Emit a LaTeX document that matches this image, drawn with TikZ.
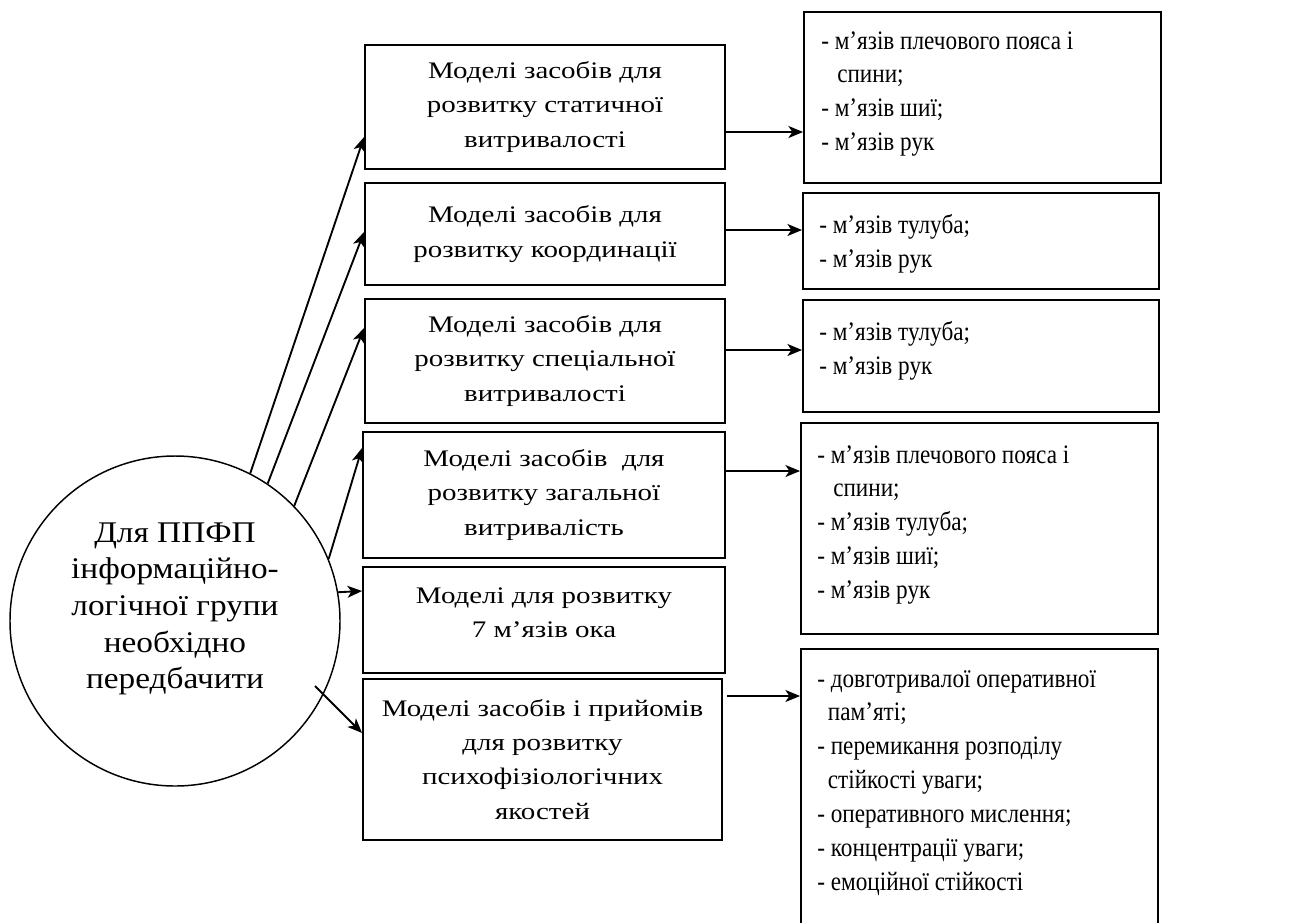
\documentclass[tikz,border=0pt]{standalone}
\usepackage{fontspec}
\setmainfont{Liberation Serif}
\newfontfamily\midfont[FakeStretch=1.22]{Liberation Serif}
\newfontfamily\hubfont[FakeStretch=1.11]{Liberation Serif}
\newfontfamily\listfont[FakeStretch=0.87]{Liberation Serif}
\usetikzlibrary{arrows.meta,calc}

\tikzset{
  box/.style={draw, line width=1.4pt, rectangle, inner sep=0pt, align=center,
    font=\midfont\fontsize{17.8pt}{25.6pt}\selectfont},
  listbox/.style={draw, line width=1.4pt, rectangle, inner sep=0pt},
  listtext/.style={anchor=north west, inner sep=0pt, align=left,
    font=\listfont\fontsize{20pt}{25.4pt}\selectfont},
  hub/.style={draw, circle, line width=1.1pt, inner sep=0pt,
    minimum size=330*0.75pt},
  hubtext/.style={inner sep=0pt, align=center,
    font=\hubfont\fontsize{22.5pt}{27.5pt}\selectfont},
  arr/.style={line width=1.4pt, -{Stealth[length=11pt,width=9pt,inset=3pt]}}
}

\begin{document}
\begin{tikzpicture}[x=0.75pt, y=-0.75pt]
\useasboundingbox (0,0) rectangle (1303,922);

% central circle and its caption
\node[hub] (c) at (175,621) {};
\node[hubtext] (ct) at (175,609) {Для ППФП\\інформаційно-\\логічної групи\\необхідно\\передбачити};

% middle column: kinds of models
\node[box, minimum width=360*0.75pt, minimum height=124*0.75pt] (m1) at (545,107)
  {Моделі засобів для\\розвитку статичної\\витривалості};
\node[box, minimum width=360*0.75pt, minimum height=102*0.75pt] (m2) at (545,234)
  {Моделі засобів для\\розвитку координації};
\node[box, minimum width=360*0.75pt, minimum height=124*0.75pt] (m3) at (545,361)
  {Моделі засобів для\\розвитку спеціальної\\витривалості};
\node[box, minimum width=362*0.75pt, minimum height=126*0.75pt] (m4) at (544,495)
  {Моделі засобів \ для\\розвитку загальної\\витривалість};
\node[box, minimum width=362*0.75pt, minimum height=106*0.75pt] (m5) at (544,620)
  {Моделі для розвитку\\7 м’язів ока\\[-15pt]};
\node[box, minimum width=359*0.75pt, minimum height=161*0.75pt] (m6) at (542.5,759.5)
  {Моделі засобів і прийомів\\для розвитку\\психофізіологічних\\якостей};

% right column: frames with lists
\node[listbox, minimum width=357*0.75pt, minimum height=171*0.75pt] (r1) at (982.5,97.5) {};
\node[listbox, minimum width=356*0.75pt, minimum height=96*0.75pt] (r2) at (981,241) {};
\node[listbox, minimum width=356*0.75pt, minimum height=112*0.75pt] (r3) at (981,356) {};
\node[listbox, minimum width=357*0.75pt, minimum height=211*0.75pt] (r4) at (979.5,528.5) {};
\begin{scope}
  \clip (0,0) rectangle (1303,922);
  \node[listbox, minimum width=357*0.75pt, minimum height=290*0.75pt] (r5) at (979.5,794) {};
\end{scope}

\node[listtext] (t1) at (821,31)
  {- м’язів плечового пояса і\\\hspace*{0.6em}спини;\\- м’язів шиї;\\- м’язів рук};
\node[listtext] (t2) at (819,214)
  {- м’язів тулуба;\\- м’язів рук};
\node[listtext] (t3) at (819,321)
  {- м’язів тулуба;\\- м’язів рук};
\node[listtext] (t4) at (817,445)
  {- м’язів плечового пояса і\\\hspace*{0.6em}спини;\\- м’язів тулуба;\\- м’язів шиї;\\- м’язів рук};
\node[listtext] (t5) at (817,670)
  {- довготривалої оперативної\\\hspace*{0.4em}пам’яті;\\- перемикання розподілу\\\hspace*{0.4em}стійкості уваги;\\- оперативного мислення;\\- концентрації уваги;\\- емоційної стійкості};

% arrow heights
\coordinate (e1) at (0,137);
\coordinate (e2) at (0,232);
\coordinate (e3) at (0,328);
\coordinate (e4) at (0,448);
\coordinate (e5) at (0,591);
\coordinate (e6) at (0,733);
\coordinate (s6) at (315,686);

% arrows from the circle
\draw[arr] (c.63.6) -- (m1.west |- e1);
\draw[arr] (c.56.2) -- (m2.west |- e2);
\draw[arr] (c.44.5) -- (m3.west |- e3);
\draw[arr] (c.22.7) -- (m4.west |- e4);
\draw[arr] (c.10.5) -- (m5.west |- e5);
\draw[arr] (s6) -- (m6.west |- e6);

% arrows to the lists
\coordinate (h1) at (0,132);
\coordinate (h2) at (0,230);
\coordinate (h3) at (0,350);
\coordinate (h4) at (0,471);
\coordinate (h6) at (0,696);
\draw[arr] (m1.east |- h1) -- (r1.west |- h1);
\draw[arr] (m2.east |- h2) -- (r2.west |- h2);
\draw[arr] (m3.east |- h3) -- (r3.west |- h3);
\draw[arr] (m4.east |- h4) -- (r4.west |- h4);
\draw[arr] ([xshift=3pt]m6.east |- h6) -- (r5.west |- h6);
\end{tikzpicture}
\end{document}
